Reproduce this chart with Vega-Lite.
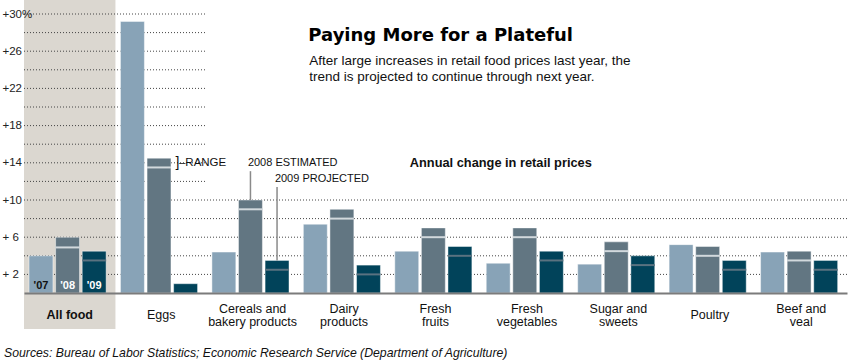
{
  "$schema": "https://vega.github.io/schema/vega-lite/v6.json",
  "autosize": "none",
  "width": 823,
  "height": 279,
  "padding": {"left": 24, "top": 14, "right": 4, "bottom": 69},
  "background": "#ffffff",
  "config": {"font": "Liberation Sans", "view": {"stroke": null}, "axisY": {"labelOverlap": false, "labelBound": false}, "axis": {"labelOverlap": false}},
  "datasets": {
    "prices": [
      {"cat": "All food", "year": "'07", "hi": 4.0, "lo": null},
      {"cat": "All food", "year": "'08", "hi": 6.0, "lo": 4.9},
      {"cat": "All food", "year": "'09", "hi": 4.5, "lo": 3.5},
      {"cat": "Eggs", "year": "'07", "hi": 29.2, "lo": null},
      {"cat": "Eggs", "year": "'08", "hi": 14.5, "lo": 13.5},
      {"cat": "Eggs", "year": "'09", "hi": 1.0, "lo": null},
      {"cat": "Cereals and bakery products", "year": "'07", "hi": 4.4, "lo": null},
      {"cat": "Cereals and bakery products", "year": "'08", "hi": 10.0, "lo": 9.0},
      {"cat": "Cereals and bakery products", "year": "'09", "hi": 3.5, "lo": 2.5},
      {"cat": "Dairy products", "year": "'07", "hi": 7.4, "lo": null},
      {"cat": "Dairy products", "year": "'08", "hi": 9.0, "lo": 8.0},
      {"cat": "Dairy products", "year": "'09", "hi": 3.0, "lo": 2.0},
      {"cat": "Fresh fruits", "year": "'07", "hi": 4.5, "lo": null},
      {"cat": "Fresh fruits", "year": "'08", "hi": 7.0, "lo": 6.0},
      {"cat": "Fresh fruits", "year": "'09", "hi": 5.0, "lo": 4.0},
      {"cat": "Fresh vegetables", "year": "'07", "hi": 3.2, "lo": null},
      {"cat": "Fresh vegetables", "year": "'08", "hi": 7.0, "lo": 6.0},
      {"cat": "Fresh vegetables", "year": "'09", "hi": 4.5, "lo": 3.5},
      {"cat": "Sugar and sweets", "year": "'07", "hi": 3.1, "lo": null},
      {"cat": "Sugar and sweets", "year": "'08", "hi": 5.5, "lo": 4.5},
      {"cat": "Sugar and sweets", "year": "'09", "hi": 4.0, "lo": 3.0},
      {"cat": "Poultry", "year": "'07", "hi": 5.2, "lo": null},
      {"cat": "Poultry", "year": "'08", "hi": 5.0, "lo": 4.0},
      {"cat": "Poultry", "year": "'09", "hi": 3.5, "lo": 2.5},
      {"cat": "Beef and veal", "year": "'07", "hi": 4.4, "lo": null},
      {"cat": "Beef and veal", "year": "'08", "hi": 4.5, "lo": 3.5},
      {"cat": "Beef and veal", "year": "'09", "hi": 3.5, "lo": 2.5}
    ]
  },
  "encoding": {
    "x": {
      "field": "cat", "type": "nominal",
      "sort": ["All food", "Eggs", "Cereals and bakery products", "Dairy products", "Fresh fruits", "Fresh vegetables", "Sugar and sweets", "Poultry", "Beef and veal"],
      "scale": {"domain": ["All food", "Eggs", "Cereals and bakery products", "Dairy products", "Fresh fruits", "Fresh vegetables", "Sugar and sweets", "Poultry", "Beef and veal"], "paddingInner": 0, "paddingOuter": 0},
      "axis": {
        "title": null, "orient": "bottom", "ticks": false, "grid": false,
        "domain": true, "domainColor": "#7b7b7b", "domainWidth": 2,
        "labelAngle": 0, "labelBaseline": "middle",
        "labelPadding": {"condition": {"test": "indexof(['All food', 'Eggs', 'Poultry'], datum.value) >= 0", "value": 21}, "value": 15},
        "labelFontSize": 12.5, "labelColor": "#111111", "labelLineHeight": 13,
        "labelLimit": 0, "zindex": 1,
        "labelFontWeight": {"condition": {"test": "datum.value == 'All food'", "value": "bold"}, "value": "normal"},
        "labelExpr": "datum.value == 'Cereals and bakery products' ? ['Cereals and', 'bakery products'] : datum.value == 'Dairy products' ? ['Dairy', 'products'] : datum.value == 'Fresh fruits' ? ['Fresh', 'fruits'] : datum.value == 'Fresh vegetables' ? ['Fresh', 'vegetables'] : datum.value == 'Sugar and sweets' ? ['Sugar and', 'sweets'] : datum.value == 'Beef and veal' ? ['Beef and', 'veal'] : datum.value"
      }
    },
    "y": {
      "type": "quantitative",
      "scale": {"domain": [0, 30], "nice": false, "zero": true},
      "axis": {
        "title": null, "values": [2, 6, 10, 14, 18, 22, 26, 30], "grid": false, "ticks": false, "domain": false, "zindex": 1,
        "labelOverlap": false, "labelAlign": "left", "labelPadding": 22, "labelFontSize": 11.5, "labelColor": "#222222", "labelLimit": 0,
        "labelExpr": "datum.value == 30 ? '+30%' : datum.value < 10 ? '+ ' + datum.value : '+' + datum.value"
      }
    }
  },
  "layer": [
    {
      "data": {"values": [{"k": 1}]},
      "mark": {"type": "rect", "color": "#dbd7d0"},
      "encoding": {
        "x": {"datum": "All food", "type": "nominal"},
        "y": {"datum": -3.87, "type": "quantitative"},
        "y2": {"datum": 31.5}
      }
    },
    {
      "data": {"values": [{"g": 2}, {"g": 4}, {"g": 6}, {"g": 8}, {"g": 10}]},
      "mark": {"type": "rule", "color": "#444444", "strokeDash": [1, 2], "strokeWidth": 1},
      "encoding": {
        "x": null,
        "y": {"field": "g", "type": "quantitative"}
      }
    },
    {
      "data": {"values": [{"g": 12}, {"g": 14}, {"g": 16}, {"g": 18}, {"g": 20}, {"g": 22}, {"g": 24}, {"g": 26}, {"g": 28}, {"g": 30}]},
      "mark": {"type": "rule", "color": "#444444", "strokeDash": [1, 2], "strokeWidth": 1},
      "encoding": {
        "x": {"datum": "All food", "type": "nominal", "bandPosition": 0},
        "x2": {"datum": "Eggs", "bandPosition": 1},
        "y": {"field": "g", "type": "quantitative"}
      }
    },
    {
      "data": {"name": "prices"},
      "mark": {"type": "bar", "stroke": "#ffffff", "strokeOpacity": 0.45, "strokeWidth": 1},
      "encoding": {
        "xOffset": {"field": "year", "type": "nominal", "scale": {"domain": ["'07", "'08", "'09"], "paddingInner": 0.1, "paddingOuter": 0.27, "align": 0.35}},
        "y": {"field": "hi", "type": "quantitative"},
        "color": {"field": "year", "type": "nominal", "legend": null, "scale": {"domain": ["'07", "'08", "'09"], "range": ["#88a3b7", "#627682", "#01435a"]}}
      }
    },
    {
      "data": {"name": "prices"},
      "transform": [{"filter": "isValid(datum.lo)"}],
      "mark": {"type": "tick", "size": 24, "thickness": 2, "opacity": 1},
      "encoding": {
        "xOffset": {"field": "year", "type": "nominal"},
        "y": {"field": "lo", "type": "quantitative"},
        "color": {"condition": {"test": "datum.year == \"'08\"", "value": "#d2d9dd"}, "value": "#5a7280"}
      }
    },
    {
      "data": {"name": "prices"},
      "transform": [{"filter": "datum.cat == 'All food'"}],
      "mark": {"type": "text", "fontSize": 11, "fontWeight": "bold", "baseline": "middle", "align": "center"},
      "encoding": {
        "xOffset": {"field": "year", "type": "nominal"},
        "y": {"datum": 0.8, "type": "quantitative"},
        "text": {"field": "year"},
        "color": {"condition": {"test": "datum.year == \"'07\"", "value": "#111111"}, "value": "#ffffff"}
      }
    },
    {
      "data": {"values": [{"year": "'08", "top": 13.1, "bar": 10.0}, {"year": "'09", "top": 11.4, "bar": 3.5}]},
      "mark": {"type": "rule", "color": "#8a8a8a", "strokeWidth": 1.5},
      "encoding": {
        "x": {"datum": "Cereals and bakery products", "type": "nominal"},
        "xOffset": {"field": "year", "type": "nominal"},
        "y": {"field": "bar", "type": "quantitative"},
        "y2": {"field": "top"}
      }
    },
    {
      "data": {"values": [{"k": 1}]},
      "mark": {"type": "text", "text": "Paying More for a Plateful", "font": "DejaVu Sans", "fontSize": 18, "fontWeight": "bold", "align": "left", "baseline": "alphabetic", "dx": 10, "color": "#000000"},
      "encoding": {
        "x": {"datum": "Dairy products", "type": "nominal", "bandPosition": 0},
        "y": {"datum": 27.13, "type": "quantitative"}
      }
    },
    {
      "data": {"values": [{"k": 1}]},
      "mark": {"type": "text", "text": ["After large increases in retail food prices last year, the", "trend is projected to continue through next year."], "fontSize": 13.5, "lineHeight": 16, "align": "left", "baseline": "alphabetic", "dx": 11, "color": "#111111"},
      "encoding": {
        "x": {"datum": "Dairy products", "type": "nominal", "bandPosition": 0},
        "y": {"datum": 24.5, "type": "quantitative"}
      }
    },
    {
      "data": {"values": [{"k": 1}]},
      "mark": {"type": "text", "text": "Annual change in retail prices", "fontSize": 12.8, "fontWeight": "bold", "align": "left", "baseline": "middle", "dx": 20, "color": "#111111"},
      "encoding": {
        "x": {"datum": "Fresh fruits", "type": "nominal", "bandPosition": 0},
        "y": {"datum": 13.95, "type": "quantitative"}
      }
    },
    {
      "data": {"values": [{"k": 1}]},
      "mark": {"type": "text", "text": "2008 ESTIMATED", "fontSize": 11, "align": "left", "baseline": "middle", "dx": 41, "color": "#111111"},
      "encoding": {
        "x": {"datum": "Cereals and bakery products", "type": "nominal", "bandPosition": 0},
        "y": {"datum": 13.95, "type": "quantitative"}
      }
    },
    {
      "data": {"values": [{"k": 1}]},
      "mark": {"type": "text", "text": "2009 PROJECTED", "fontSize": 11, "align": "left", "baseline": "middle", "dx": 68, "color": "#111111"},
      "encoding": {
        "x": {"datum": "Cereals and bakery products", "type": "nominal", "bandPosition": 0},
        "y": {"datum": 12.23, "type": "quantitative"}
      }
    },
    {
      "data": {"values": [{"k": 1}]},
      "mark": {"type": "text", "text": "]", "fontSize": 14, "align": "left", "baseline": "middle", "dx": 60, "color": "#111111"},
      "encoding": {
        "x": {"datum": "Eggs", "type": "nominal", "bandPosition": 0},
        "y": {"datum": 14.0, "type": "quantitative"}
      }
    },
    {
      "data": {"values": [{"k": 1}]},
      "mark": {"type": "text", "text": "–RANGE", "fontSize": 11.5, "align": "left", "baseline": "middle", "dx": 63.5, "color": "#111111"},
      "encoding": {
        "x": {"datum": "Eggs", "type": "nominal", "bandPosition": 0},
        "y": {"datum": 14.0, "type": "quantitative"}
      }
    },
    {
      "data": {"values": [{"k": 1}]},
      "mark": {"type": "text", "text": "Sources: Bureau of Labor Statistics; Economic Research Service (Department of Agriculture)", "fontSize": 12.25, "fontStyle": "italic", "align": "left", "baseline": "middle", "dx": -20, "color": "#111111"},
      "encoding": {
        "x": {"datum": "All food", "type": "nominal", "bandPosition": 0},
        "y": {"datum": -6.45, "type": "quantitative"}
      }
    }
  ]
}
